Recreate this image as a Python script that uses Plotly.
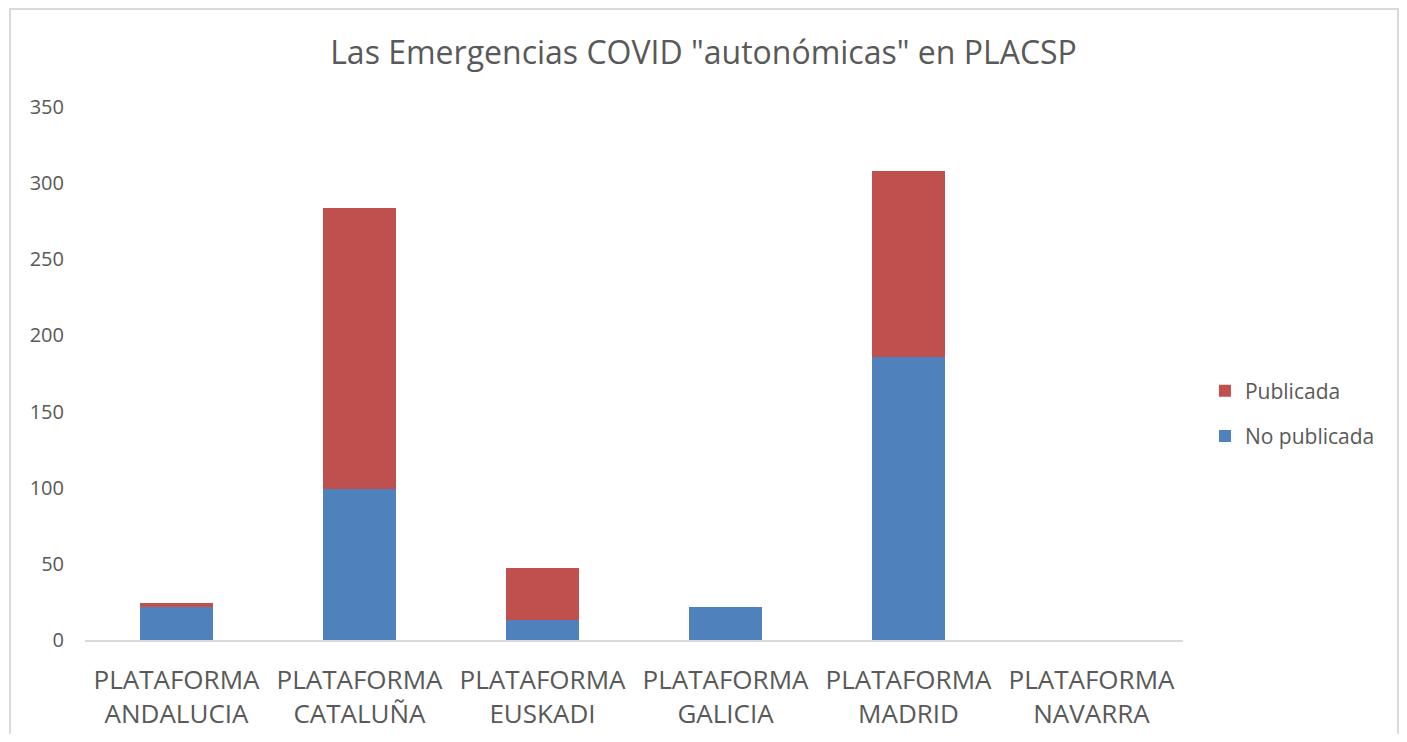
import plotly.graph_objects as go

categories = ["PLATAFORMA<br>ANDALUCIA", "PLATAFORMA<br>CATALUÑA", "PLATAFORMA<br>EUSKADI",
              "PLATAFORMA<br>GALICIA", "PLATAFORMA<br>MADRID", "PLATAFORMA<br>NAVARRA"]
no_publicada = [22, 99, 13, 22, 186, 0]
publicada = [2, 185, 34, 0, 122, 0]
y_ticks = [0, 50, 100, 150, 200, 250, 300, 350]

FONT = "Open Sans"
GREY = "#595959"

# page body adds an 8px margin, so figure is sized/margined accordingly
W, H = 1391, 726
L, T, R, B = 77, 99, 216, 94
PW, PH = W - L - R, H - T - B

fig = go.Figure()
fig.add_trace(go.Bar(name="No publicada", x=categories, y=no_publicada, legendgroup="a",
                     legendrank=2, marker=dict(color="#4f81bd", line=dict(width=0))))
fig.add_trace(go.Bar(name="Publicada", x=categories, y=publicada, legendgroup="b",
                     legendrank=1, marker=dict(color="#c0504d", line=dict(width=0))))

fig.update_layout(
    width=W, height=H,
    barmode="stack", bargap=0.6,
    paper_bgcolor="white", plot_bgcolor="white",
    margin=dict(l=L, r=R, t=T, b=B, autoexpand=False),
    font=dict(family=FONT, color=GREY),
    title=dict(text='Las Emergencias COVID "autonómicas" en PLACSP', x=0.5, xref="container",
               xanchor="center", y=1 - 45 / H, yanchor="middle",
               font=dict(size=32, color=GREY)),
    legend=dict(x=1.020, y=0.425, xanchor="left", yanchor="middle",
                traceorder="grouped", font=dict(size=21, color=GREY),
                itemwidth=30, tracegroupgap=15),
    xaxis=dict(showline=True, linecolor="#d9d9d9", linewidth=1.5, ticks="",
               tickfont=dict(size=26, color=GREY), showgrid=False,
               ticklabelstandoff=16, automargin=False),
    yaxis=dict(range=[0, 350], tickvals=y_ticks, showgrid=False, showline=False,
               zeroline=False, ticks="", tickfont=dict(size=20, color=GREY),
               ticklabelstandoff=20, automargin=False),
    shapes=[dict(type="rect", xref="paper", yref="paper",
                 x0=(2 - L) / PW, x1=(1390 - L) / PW,
                 y0=-0.4, y1=(PH + T - 1) / PH,
                 line=dict(color="#d9d9d9", width=2))],
)

fig.write_html("out.html")
